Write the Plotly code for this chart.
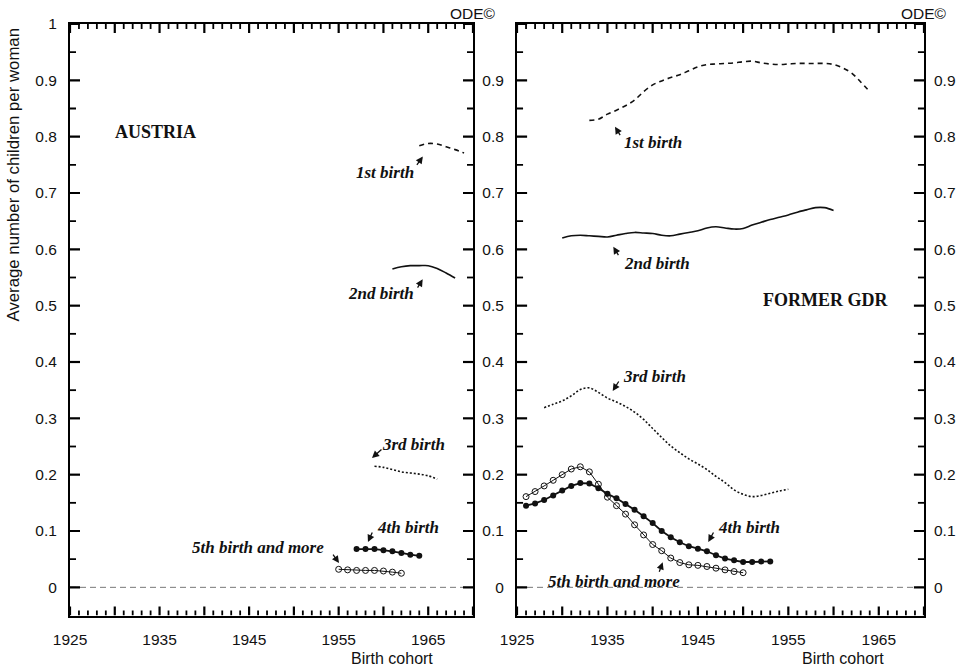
import plotly.graph_objects as go

# ---------------------------------------------------------------------------
# Average number of children per woman, by birth order and birth cohort
# ---------------------------------------------------------------------------

# Austria
at_b1_years = [1964, 1965, 1966, 1967, 1968, 1969]
at_b1 = [0.784, 0.788, 0.787, 0.782, 0.777, 0.771]

at_b2_years = [1961, 1962, 1963, 1964, 1965, 1966, 1967, 1968]
at_b2 = [0.565, 0.569, 0.571, 0.571, 0.571, 0.566, 0.558, 0.549]

at_b3_years = [1959, 1960, 1961, 1962, 1963, 1964, 1965, 1966]
at_b3 = [0.215, 0.213, 0.209, 0.205, 0.203, 0.201, 0.198, 0.192]

at_b4_years = [1957, 1958, 1959, 1960, 1961, 1962, 1963, 1964]
at_b4 = [0.068, 0.068, 0.068, 0.066, 0.064, 0.061, 0.058, 0.056]

at_b5_years = [1955, 1956, 1957, 1958, 1959, 1960, 1961, 1962]
at_b5 = [0.032, 0.031, 0.030, 0.030, 0.030, 0.029, 0.027, 0.025]

# Former GDR
gdr_b1_years = list(range(1933, 1965))
gdr_b1 = [0.829, 0.831, 0.840, 0.847, 0.855, 0.865, 0.880, 0.892, 0.899, 0.905,
          0.910, 0.917, 0.924, 0.928, 0.929, 0.930, 0.931, 0.933, 0.934, 0.931,
          0.929, 0.928, 0.929, 0.930, 0.930, 0.930, 0.930, 0.928, 0.922, 0.913,
          0.897, 0.880]

gdr_b2_years = list(range(1930, 1961))
gdr_b2 = [0.620, 0.624, 0.625, 0.624, 0.623, 0.622, 0.625, 0.628, 0.630, 0.629,
          0.628, 0.625, 0.624, 0.627, 0.630, 0.633, 0.638, 0.640, 0.638, 0.636,
          0.637, 0.643, 0.648, 0.653, 0.657, 0.661, 0.666, 0.670, 0.674, 0.674,
          0.669]

gdr_b3_years = list(range(1928, 1956))
gdr_b3 = [0.319, 0.325, 0.331, 0.340, 0.351, 0.354, 0.346, 0.336, 0.329, 0.321,
          0.311, 0.298, 0.282, 0.266, 0.251, 0.239, 0.228, 0.219, 0.209, 0.197,
          0.186, 0.173, 0.165, 0.161, 0.163, 0.167, 0.171, 0.174]

gdr_b4_years = list(range(1926, 1954))
gdr_b4 = [0.145, 0.149, 0.155, 0.163, 0.172, 0.180, 0.185, 0.1845, 0.176, 0.166,
          0.158, 0.148, 0.1375, 0.126, 0.114, 0.100, 0.089, 0.080, 0.073, 0.0685,
          0.064, 0.057, 0.051, 0.048, 0.045, 0.045, 0.046, 0.046]

gdr_b5_years = list(range(1926, 1951))
gdr_b5 = [0.161, 0.170, 0.180, 0.190, 0.200, 0.210, 0.214, 0.205, 0.183, 0.160,
          0.145, 0.130, 0.111, 0.093, 0.076, 0.065, 0.052, 0.044, 0.040, 0.039,
          0.037, 0.034, 0.031, 0.028, 0.026]

# Axis ticks
x_tickvals = list(range(1925, 1971, 5))
x_ticktext = [str(v) if (v - 1925) % 10 == 0 and v < 1970 else "" for v in x_tickvals]
x_minor = [v for v in range(1926, 1970) if v % 5 != 0]
y_tickvals_left = [round(i * 0.1, 1) for i in range(11)]
y_tickvals_right = [round(i * 0.1, 1) for i in range(10)]
y_major = [round(i * 0.1, 1) for i in range(11)]
y_minor = [round(0.05 + i * 0.1, 2) for i in range(10)]

X_RANGE = [1925, 1970]
Y_RANGE = [-0.05, 1.0]


def fmt(v):
    return "0" if v == 0 else ("1" if v == 1 else f"{v:.1f}")


INK = "#111111"
SANS = "Liberation Sans, Arial, sans-serif"
SERIF = "Liberation Serif, Times New Roman, serif"

W, H = 967, 670
dom_left = [70 / W, 473 / W]
dom_right = [517 / W, 924 / W]
dom_y = [1 - 615.5 / H, 1 - 24 / H]
panel_w_px = 403
panel_h_px = 591.5

fig = go.Figure()


def add_panel(xa, ya, b1x, b1, b2x, b2, b3x, b3, b4x, b4, b5x, b5):
    common = dict(xaxis=xa, yaxis=ya, showlegend=False, hoverinfo="skip")
    fig.add_trace(go.Scatter(x=b1x, y=b1, mode="lines",
                             line=dict(color=INK, width=1.6, dash="5px,4px"),
                             line_shape="spline", **common))
    fig.add_trace(go.Scatter(x=b2x, y=b2, mode="lines",
                             line=dict(color=INK, width=1.6),
                             line_shape="spline", **common))
    fig.add_trace(go.Scatter(x=b3x, y=b3, mode="lines",
                             line=dict(color=INK, width=1.6, dash="2px,2px"),
                             line_shape="spline", **common))
    fig.add_trace(go.Scatter(x=b4x, y=b4, mode="lines+markers",
                             line=dict(color=INK, width=1.8),
                             marker=dict(symbol="circle", size=6, color=INK),
                             **common))
    fig.add_trace(go.Scatter(x=b5x, y=b5, mode="lines+markers",
                             line=dict(color=INK, width=1),
                             marker=dict(symbol="circle-open", size=6, color=INK,
                                         line=dict(width=1)),
                             **common))


def add_tick_marks(xa, ya):
    """Inward tick marks on all four frame sides, built from the tick lists."""
    px_x = (X_RANGE[1] - X_RANGE[0]) / panel_w_px   # years per pixel
    px_y = (Y_RANGE[1] - Y_RANGE[0]) / panel_h_px   # units per pixel
    for xs, ys, length, width in (
        (x_tickvals, None, 9, 2.2), (x_minor, None, 5, 1.8),
        (None, y_major, 10, 2.2), (None, y_minor, 6, 1.8),
    ):
        tx, ty = [], []
        if xs is not None:
            for v in xs:
                tx += [v, v, None, v, v, None]
                ty += [Y_RANGE[0], Y_RANGE[0] + length * px_y, None,
                       Y_RANGE[1], Y_RANGE[1] - length * px_y, None]
        else:
            for v in ys:
                tx += [X_RANGE[0], X_RANGE[0] + length * px_x, None,
                       X_RANGE[1], X_RANGE[1] - length * px_x, None]
                ty += [v, v, None, v, v, None]
        fig.add_trace(go.Scatter(x=tx, y=ty, mode="lines", xaxis=xa, yaxis=ya,
                                 line=dict(color="black", width=width),
                                 cliponaxis=False, showlegend=False,
                                 hoverinfo="skip", connectgaps=False))


add_panel("x", "y", at_b1_years, at_b1, at_b2_years, at_b2, at_b3_years, at_b3,
          at_b4_years, at_b4, at_b5_years, at_b5)
add_panel("x2", "y2", gdr_b1_years, gdr_b1, gdr_b2_years, gdr_b2, gdr_b3_years, gdr_b3,
          gdr_b4_years, gdr_b4, gdr_b5_years, gdr_b5)
add_tick_marks("x", "y")
add_tick_marks("x2", "y2")
# anchor trace for the right-hand label axis of the second panel
fig.add_trace(go.Scatter(x=[None], y=[None], xaxis="x2", yaxis="y3",
                         showlegend=False, hoverinfo="skip"))

xaxis_style = dict(
    range=X_RANGE, showgrid=False, zeroline=False, automargin=False,
    showline=True, linecolor="black", linewidth=2, mirror=True,
    ticks="", tickmode="array", tickvals=x_tickvals, ticktext=x_ticktext,
    tickfont=dict(family=SANS, size=15.5, color=INK),
    ticklabelstandoff=9,
)


def yaxis_style(vals, **kw):
    d = dict(
        range=Y_RANGE, showgrid=False, zeroline=False, automargin=False,
        showline=True, linecolor="black", linewidth=2, mirror=True,
        ticks="", tickmode="array", tickvals=vals, ticktext=[fmt(v) for v in vals],
        tickfont=dict(family=SANS, size=15.5, color=INK),
        ticklabelstandoff=8,
        domain=dom_y,
    )
    d.update(kw)
    return d


fig.update_layout(
    template="none",
    width=W, height=H, autosize=False,
    margin=dict(l=0, r=0, t=0, b=0, autoexpand=False),
    paper_bgcolor="white", plot_bgcolor="white",
    showlegend=False,
    xaxis=dict(domain=dom_left, anchor="y", **xaxis_style),
    xaxis2=dict(domain=dom_right, anchor="y2", **xaxis_style),
    yaxis=yaxis_style(y_tickvals_left, anchor="x"),
    yaxis2=yaxis_style(y_tickvals_right, anchor="x2"),
    yaxis3=dict(range=Y_RANGE, overlaying="y2", anchor="x2", side="right",
                showgrid=False, zeroline=False, showline=False, ticks="",
                automargin=False,
                tickmode="array", tickvals=y_tickvals_right,
                ticktext=[fmt(v) for v in y_tickvals_right],
                tickfont=dict(family=SANS, size=15.5, color=INK),
                ticklabelstandoff=9),
)

# zero reference lines
for xr, yr in (("x domain", "y"), ("x2 domain", "y2")):
    fig.add_shape(type="line", xref=xr, yref=yr, x0=0, x1=1, y0=0, y1=0,
                  line=dict(color="#777777", width=1, dash="6px,4px"), layer="below")

ann = []

# copyright marks
for xr in ("x domain", "x2 domain"):
    ann.append(dict(text="ODE©", xref=xr, x=1, yref="paper", y=1 - 14 / H,
                    showarrow=False, xanchor="center", yanchor="middle",
                    font=dict(family=SANS, size=15.5, color=INK)))

# axis titles
for xr in ("x", "x2"):
    ann.append(dict(text="Birth cohort", xref=xr, x=1961, yref="paper", y=1 - 658 / H,
                    showarrow=False, xanchor="center", yanchor="middle",
                    font=dict(family=SANS, size=16, color=INK)))
ann.append(dict(text="Average number of children per woman", xref="paper", x=13.5 / W,
                yref="paper", y=1 - 175 / H, textangle=-90, showarrow=False,
                xanchor="center", yanchor="middle",
                font=dict(family=SANS, size=16.8, color=INK)))

# panel titles
ann.append(dict(text="<b>AUSTRIA</b>", xref="x", yref="y", x=1934.55, y=0.808,
                showarrow=False, font=dict(family=SERIF, size=18, color=INK)))
ann.append(dict(text="<b>FORMER GDR</b>", xref="x2", yref="y2", x=1959.06, y=0.510,
                showarrow=False, font=dict(family=SERIF, size=18, color=INK)))

# series labels: (axis suffix, text, text x, text y, tip x, tip y, ax, ay)
labels = [
    ("", "1st birth", 1960.17, 0.737, 1964.4, 0.765, -7, 10),
    ("", "2nd birth", 1959.73, 0.522, 1964.38, 0.547, -6, 10),
    ("", "3rd birth", 1963.3, 0.254, 1958.72, 0.2295, 11, -10),
    ("", "4th birth", 1962.74, 0.107, 1958.27, 0.0804, 5, -11),
    ("", "5th birth and more", 1946.0, 0.070, 1955.04, 0.0431, -7, -10),
    ("2", "1st birth", 1940.04, 0.789, 1935.84, 0.8177, 6, 10),
    ("2", "2nd birth", 1940.48, 0.574, 1935.65, 0.6047, 6, 10),
    ("2", "3rd birth", 1940.2, 0.375, 1935.58, 0.3485, 7, -11),
    ("2", "4th birth", 1950.65, 0.107, 1946.15, 0.0804, 6, -11),
    ("2", "5th birth and more", 1935.73, 0.0112, 1941.11, 0.0444, -4, 11),
]
for sfx, txt, tx, ty, px, py, ax, ay in labels:
    ann.append(dict(text=f"<b><i>{txt}</i></b>", xref="x" + sfx, yref="y" + sfx,
                    x=tx, y=ty, showarrow=False,
                    font=dict(family=SERIF, size=17, color=INK)))
    ann.append(dict(text="", xref="x" + sfx, yref="y" + sfx, x=px, y=py,
                    showarrow=True, ax=ax, ay=ay, arrowhead=2, arrowsize=1.1,
                    arrowwidth=1.3, arrowcolor=INK, standoff=0, startstandoff=0))

fig.update_layout(annotations=ann)

fig.write_html("out.html")
